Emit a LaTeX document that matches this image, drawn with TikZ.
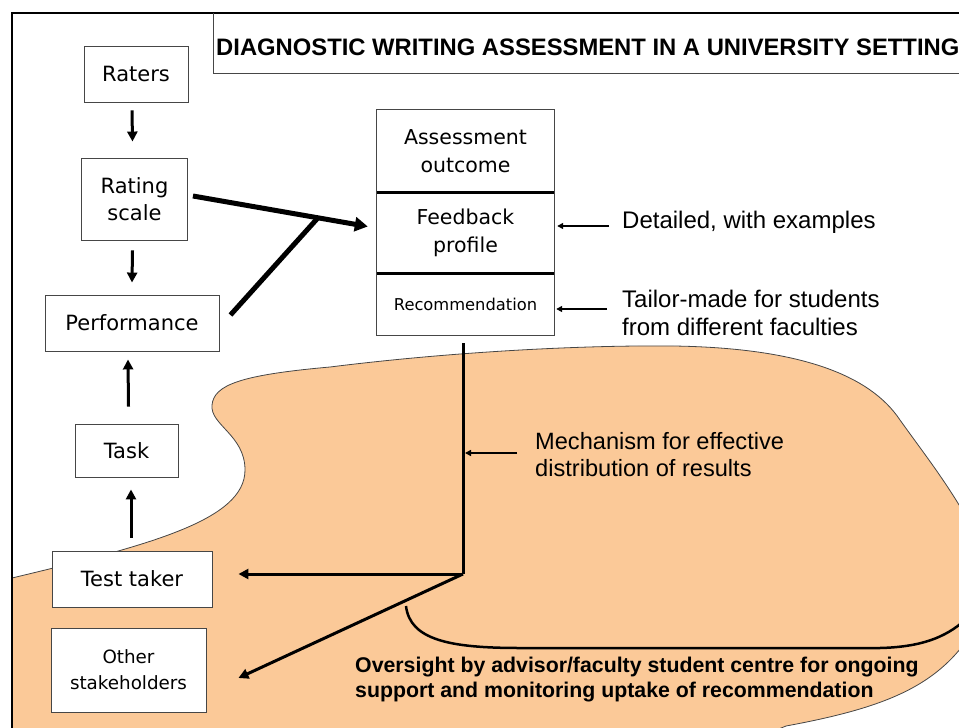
\documentclass[tikz,border=0pt]{standalone}
\usepackage{fontspec}
\setmainfont{Liberation Sans}
\newfontfamily\boxfont{DejaVu Sans}
\usetikzlibrary{arrows.meta,calc}
\definecolor{blobfill}{RGB}{251,201,152}
\definecolor{edgegray}{RGB}{70,70,70}
\begin{document}
\begin{tikzpicture}[x=1pt,y=-1pt,
  box/.style={draw=edgegray, line width=0.9pt, fill=white, inner sep=0pt, align=center,
    font=\boxfont\fontsize{21}{27}\selectfont},
  cell/.style={inner sep=0pt, align=center, minimum width=177pt,
    font=\boxfont\fontsize{20.5}{28}\selectfont},
  arr/.style={line width=3pt, -{Triangle[length=10pt,width=10pt]}},
  bigarr/.style={line width=5pt, -{Triangle[length=13pt,width=14pt]}},
  bigline/.style={line width=5pt},
  smallarr/.style={line width=2pt, -{Triangle[length=6pt,width=6pt]}},
  note/.style={anchor=west, align=left, inner sep=0pt, font=\fontsize{24}{28}\selectfont},
]
\useasboundingbox (0,0) rectangle (959,728);
\begin{scope}
\clip (0,0) rectangle (959,728);
% orange area
\draw[fill=blobfill, draw=edgegray, line width=0.8pt]
  (12,578) .. controls (150,545) and (245,520) .. (245,470)
  .. controls (245,435) and (210,425) .. (212,405)
  .. controls (214,385) and (240,375) .. (330,367)
  .. controls (450,352) and (580,345) .. (674,346)
  .. controls (800,348) and (870,375) .. (900,420)
  .. controls (925,455) and (945,480) .. (968,520)
  -- (985,610)
  .. controls (950,680) and (900,705) .. (786,726)
  -- (740,745) -- (12,745) -- cycle;
% frame
\draw[line width=2pt] (12,745) -- (12,13) -- (975,13);
% title
\draw[edgegray, line width=0.9pt] (213,13) -- (213,73) -- (975,73);
\node[anchor=west, inner sep=0pt, font=\bfseries\fontsize{23.8}{27}\selectfont] (title) at (216,47)
  {DIAGNOSTIC WRITING ASSESSMENT IN A UNIVERSITY SETTING};
% bracket curve
\draw[line width=2.5pt] (406,606) .. controls (410,640) and (450,648) .. (520,648)
  -- (880,648) .. controls (920,647) and (945,638) .. (965,620);
\end{scope}

% left column
\node[box, minimum width=104pt, minimum height=56pt] (raters) at (136,74) {Raters};
\node[box, minimum width=106pt, minimum height=82pt] (rating) at (134.5,199) {Rating\\scale};
\node[box, minimum width=174pt, minimum height=56pt] (perf) at (132,323) {Performance};
\node[box, minimum width=103pt, minimum height=53pt] (task) at (126.5,450.5) {Task};
\node[box, minimum width=160pt, minimum height=56pt] (taker) at (132,579) {Test taker};
\node[box, minimum width=155pt, minimum height=84pt, font=\boxfont\fontsize{18.3}{26}\selectfont] (other) at (128.5,670) {Other\\stakeholders};

% right stack
\node[cell, minimum height=82pt] (assess) at (465.5,151) {Assessment\\outcome};
\node[cell, minimum height=81pt] (feedback) at (465.5,232.5) {Feedback\\profile};
\node[cell, minimum height=62pt, font=\boxfont\fontsize{16.3}{20}\selectfont] (recomm) at (465.5,304) {Recommendation};
\draw[edgegray, line width=0.9pt] (assess.north west) rectangle (recomm.south east);
\draw[line width=3pt] (assess.south west) -- (assess.south east);
\draw[line width=3pt] (feedback.south west) -- (feedback.south east);

% left arrows
\draw[arr] ([xshift=-4,yshift=-8]raters.south) -- ([xshift=-2,yshift=16]rating.north);
\draw[arr] ([xshift=-2,yshift=-10]rating.south) -- ([yshift=12]perf.north);
\draw[arr] ([xshift=2,yshift=17]task.north) -- ([xshift=-4,yshift=-8]perf.south);
\draw[arr] ([xshift=-1,yshift=13]taker.north) -- ([xshift=4.5,yshift=-12]task.south);

% big converging arrow
\draw[bigarr] ($(rating.east)+(5,-3)$) -- ($(feedback.west)+(-9,-6)$) coordinate[pos=0.715] (J);
\draw[bigline] ($(perf.east)+(11,-8)$) -- (J);

% annotations
\node[note] (detailed) at (622,222) {Detailed, with examples};
\coordinate (d1) at ($(detailed.west)+(-13,4)$);
\draw[smallarr] (d1) -- ($(d1 -| feedback.east)+(3,0)$);
\node[note] (tailor) at (622,313) {Tailor-made for students\\from different faculties};
\coordinate (t1) at ($(tailor.west)+(-15,-4)$);
\draw[smallarr] (t1) -- ($(t1 -| recomm.east)+(2,0)$);

% distribution
\coordinate (C) at (463,574);
\draw[line width=3pt] ([xshift=-2.5,yshift=-8]recomm.south) -- (C);
\node[note, font=\fontsize{23.6}{27}\selectfont] (mech) at (535,455) {Mechanism for effective\\distribution of results};
\coordinate (m1) at ($(mech.west)+(-18,-2)$);
\draw[smallarr] (m1) -- ($(m1 -| C)+(2,0)$);
\draw[arr] (C) -- ([xshift=26]taker.east |- C);
\draw[arr] (C) -- ($(other.east)+(32,8)$);

\node[anchor=west, align=left, inner sep=0pt, font=\bfseries\fontsize{21.3}{25}\selectfont] (oversight) at (355,680)
  {Oversight by advisor/faculty student centre for ongoing\\support and monitoring uptake of recommendation};
\end{tikzpicture}
\end{document}
